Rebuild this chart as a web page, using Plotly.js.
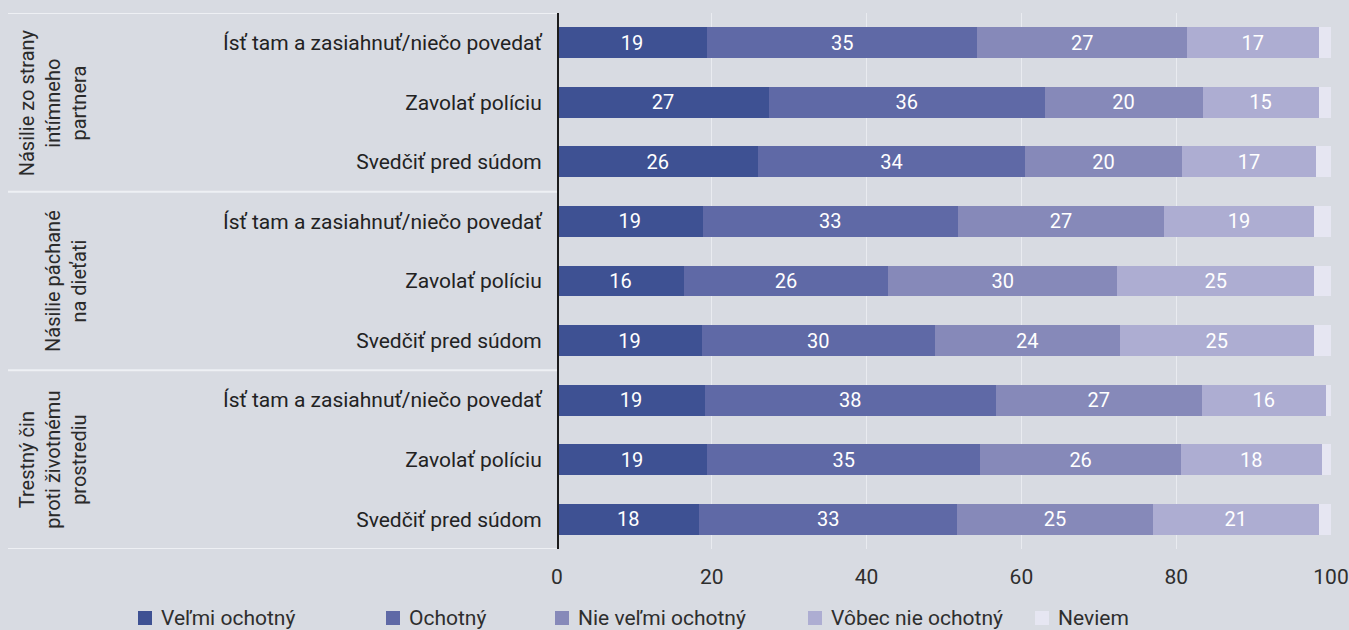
<!DOCTYPE html>
<html>
<head>
<meta charset="utf-8">
<script src="https://cdn.plot.ly/plotly-3.0.1.min.js"></script>
<style>html,body{margin:0;padding:0;background:#d8dbe2;}</style>
</head>
<body>
<div id="chart" style="width:1349px;height:630px;"></div>
<script>
// Row labels (top to bottom)
const rowLabels = [
  "Ísť tam a zasiahnuť/niečo povedať", "Zavolať políciu", "Svedčiť pred súdom",
  "Ísť tam a zasiahnuť/niečo povedať", "Zavolať políciu", "Svedčiť pred súdom",
  "Ísť tam a zasiahnuť/niečo povedať", "Zavolať políciu", "Svedčiť pred súdom"
];
const groupLabels = [
  "Násilie zo strany<br>intímneho<br>partnera",
  "Násilie páchané<br>na dieťati",
  "Trestný čin<br>proti životnému<br>prostrediu"
];
const seriesNames = ["Veľmi ochotný", "Ochotný", "Nie veľmi ochotný", "Vôbec nie ochotný", "Neviem"];
const seriesColors = ["#3e5193", "#5f69a6", "#8689b9", "#adadd2", "#e6e6f2"];

// Percent values per row
const velmiOchotny   = [19.4, 27.4, 26.0, 18.8, 16.4, 18.7, 19.1, 19.4, 18.4];
const ochotny        = [34.9, 35.6, 34.4, 33.0, 26.4, 30.1, 37.6, 35.3, 33.3];
const nieVelmi       = [27.1, 20.4, 20.4, 26.6, 29.6, 23.9, 26.6, 25.9, 25.3];
const vobecNie       = [17.0, 15.0, 17.2, 19.4, 25.4, 25.1, 16.0, 18.2, 21.4];
const neviem         = [1.6, 1.6, 2.0, 2.2, 2.2, 2.2, 0.7, 1.2, 1.6];
const xTicks = [0, 20, 40, 60, 80, 100];

const series = [velmiOchotny, ochotny, nieVelmi, vobecNie, neviem];
const yIdx = rowLabels.map((_, i) => i);
const FONT = "Roboto, 'Noto Sans', sans-serif";

// layout geometry (pixels)
const W = 1349, H = 630, ML = 557, MR = 18, MT = 13, MB = 81;
const PW = W - ML - MR, PH = H - MT - MB;
const px2x = p => (p - ML) / PW;
const py2y = p => (H - MB - p) / PH;
const legendLeft = [138, 386, 555, 808, 1035];

const traces = series.map((vals, k) => ({
  type: "bar",
  orientation: "h",
  name: seriesNames[k],
  x: vals,
  y: yIdx,
  marker: {color: seriesColors[k], line: {width: 0}},
  texttemplate: k < 4 ? "%{x:.0f}" : "",
  textposition: k < 4 ? "inside" : "none",
  insidetextanchor: "middle",
  textfont: {color: "#ffffff", size: 20, family: FONT},
  hoverinfo: "x+name",
  showlegend: false
}));

const shapes = [];
[-0.5, 2.5, 5.5, 8.5].forEach(yv => shapes.push({
  type: "line", xref: "paper", yref: "y", x0: px2x(8), x1: 0, y0: yv, y1: yv,
  line: {color: "#eef0f4", width: 2}, layer: "below"
}));
shapes.push({
  type: "line", xref: "x", yref: "paper", x0: 0, x1: 0, y0: 0, y1: 1,
  line: {color: "#1c1c1c", width: 4}, layer: "above"
});

const annotations = groupLabels.map((t, g) => ({
  xref: "paper", yref: "y", x: px2x(93), y: g * 3 + 1,
  text: t, showarrow: false, textangle: -90,
  font: {size: 20, color: "#2a2a2a", family: FONT},
  align: "center", xanchor: "right", yanchor: "middle"
}));

// manual legend
seriesNames.forEach((nm, k) => {
  const x0 = legendLeft[k];
  shapes.push({
    type: "rect", xref: "paper", yref: "paper",
    x0: px2x(x0), x1: px2x(x0 + 14), y0: py2y(625), y1: py2y(611),
    fillcolor: seriesColors[k], line: {width: 0}
  });
  annotations.push({
    xref: "paper", yref: "paper", x: px2x(x0 + 21), y: py2y(618),
    text: nm, showarrow: false, xanchor: "left", yanchor: "middle",
    font: {size: 21, color: "#2e2e2e", family: FONT}
  });
});

const layout = {
  width: W, height: H,
  margin: {l: ML, r: MR, t: MT, b: MB},
  paper_bgcolor: "#d8dbe2",
  plot_bgcolor: "#d8dbe2",
  barmode: "stack",
  bargap: 0.48,
  showlegend: false,
  xaxis: {
    range: [0, 100], tickvals: xTicks, ticktext: xTicks.map(String),
    showgrid: true, gridcolor: "#e9ebf0", gridwidth: 1, zeroline: false,
    showline: false, ticks: "outside", ticklen: 9, tickcolor: "rgba(0,0,0,0)",
    tickfont: {size: 21, color: "#2e2e2e", family: FONT}, fixedrange: true
  },
  yaxis: {
    range: [8.5, -0.5], tickvals: yIdx, ticktext: rowLabels,
    showgrid: false, zeroline: false, showline: false,
    ticks: "outside", ticklen: 10, tickcolor: "rgba(0,0,0,0)",
    tickfont: {size: 21, color: "#222222", family: FONT}, fixedrange: true
  },
  shapes: shapes,
  annotations: annotations,
  font: {family: FONT}
};

Plotly.newPlot("chart", traces, layout, {displayModeBar: false, staticPlot: true});
</script>
</body>
</html>
